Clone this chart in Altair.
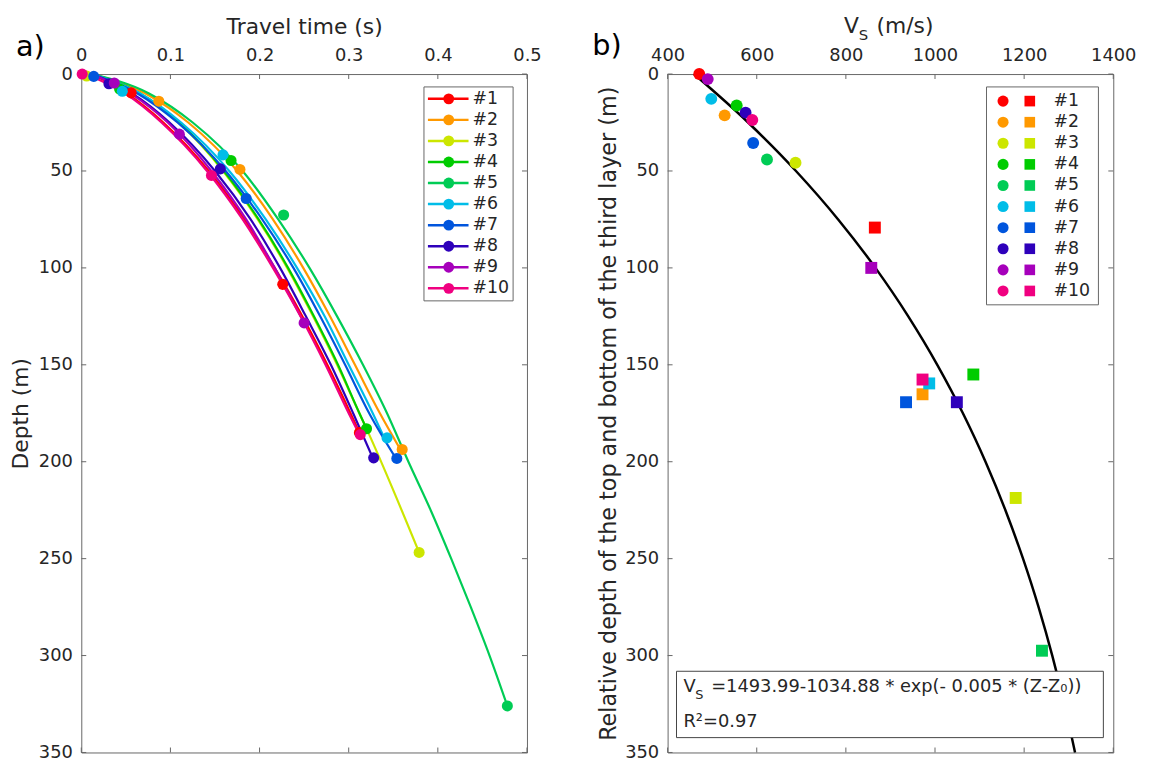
import altair as alt
import pandas as pd

# ---------------- data ----------------
SERIES = ["#1", "#2", "#3", "#4", "#5", "#6", "#7", "#8", "#9", "#10"]
COLORS = ["#ff0000", "#ff9900", "#cce600", "#00cc00", "#00cc55",
          "#00bde8", "#0055dd", "#2e00bb", "#a600bb", "#f00080"]

# Panel a: fitted travel-time curves (depth in m, time in s), one list per series
curve_depth = [
    [0, 10, 25, 50, 75, 100, 125, 150, 175, 184],
    [0, 10, 25, 50, 75, 100, 125, 150, 175, 193.7],
    [0, 10, 25, 50, 75, 100, 125, 150, 175, 185, 246.8],
    [0, 10, 25, 50, 75, 100, 125, 150, 175, 183],
    [0, 10, 25, 50, 75, 100, 125, 150, 175, 200, 225, 250, 275, 300, 326],
    [0, 10, 25, 50, 75, 100, 125, 150, 175, 187.7],
    [0, 10, 25, 50, 75, 100, 125, 150, 175, 198.3],
    [0, 10, 25, 50, 75, 100, 125, 150, 175, 198],
    [0, 10, 25, 50, 75, 100, 128.4],
    [0, 10, 25, 50, 75, 100, 125, 150, 175, 186],
]
curve_time = [
    [0.012, 0.051, 0.092, 0.143, 0.183, 0.217, 0.248, 0.276, 0.302, 0.311],
    [0.012, 0.072, 0.120, 0.175, 0.215, 0.249, 0.279, 0.307, 0.335, 0.358],
    [0.012, 0.065, 0.109, 0.159, 0.198, 0.231, 0.260, 0.287, 0.312, 0.322, 0.379],
    [0.012, 0.066, 0.110, 0.160, 0.199, 0.232, 0.261, 0.288, 0.312, 0.320],
    [0.012, 0.076, 0.125, 0.181, 0.221, 0.256, 0.287, 0.316, 0.343, 0.367, 0.392, 0.415, 0.437, 0.458, 0.478],
    [0.012, 0.066, 0.112, 0.166, 0.207, 0.242, 0.273, 0.300, 0.327, 0.340],
    [0.012, 0.063, 0.108, 0.162, 0.203, 0.238, 0.268, 0.296, 0.323, 0.353],
    [0.012, 0.057, 0.099, 0.150, 0.190, 0.223, 0.252, 0.280, 0.305, 0.327],
    [0.012, 0.055, 0.097, 0.146, 0.185, 0.217, 0.250],
    [0.005, 0.049, 0.090, 0.141, 0.181, 0.215, 0.246, 0.274, 0.300, 0.312],
]
# Panel a: measured points
marker_time = [
    [0.056, 0.226, 0.312],
    [0.087, 0.178, 0.360],
    [0.006, 0.379],
    [0.043, 0.168, 0.320],
    [0.227, 0.478],
    [0.046, 0.159, 0.343],
    [0.014, 0.185, 0.354],
    [0.031, 0.156, 0.328],
    [0.037, 0.110, 0.250],
    [0.001, 0.146, 0.313],
]
marker_depth = [
    [9.7, 108.5, 185],
    [14, 49.2, 193.7],
    [1, 246.8],
    [7.7, 44.6, 183],
    [72.7, 326],
    [8.9, 41.7, 187.7],
    [1.2, 64.2, 198.3],
    [5, 48.9, 198],
    [4.6, 31, 128.4],
    [0, 52.3, 186],
]

# Panel b: Vs at top (circles) and bottom (squares) of the third layer
circle_vs = [471, 528, 687, 555, 623, 498, 592, 575, 490, 590]
circle_depth = [0, 21.3, 45.8, 16.2, 44.1, 12.8, 35.6, 19.9, 2.6, 23.7]
square_vs = [865, 972, 1181, 1086, 1240, 987, 935, 1049, 857, 972]
square_depth = [79.2, 165.2, 218.7, 155, 297.5, 159.6, 169.3, 169.3, 100, 157.6]

# Panel b: fitted curve Vs(Z)
fit_depth = [0, 25, 50, 75, 100, 125, 150, 175, 200, 225, 250, 275, 300, 325, 350]
fit_vs = [459.1, 580.7, 688.0, 782.7, 866.3, 940.0, 1005.1, 1062.6, 1113.3,
          1158.0, 1197.5, 1232.4, 1263.1, 1290.2, 1314.2]

time_ticks = [0, 0.1, 0.2, 0.3, 0.4, 0.5]
vs_ticks = [400, 600, 800, 1000, 1200, 1400]
depth_ticks = [0, 50, 100, 150, 200, 250, 300, 350]

# ---------------- styling ----------------
FONT = "DejaVu Sans"
TXT = "#262626"
FRAME = "#666666"
W, H = 450, 685
TL = 5  # inner tick length

cscale = alt.Scale(domain=SERIES, range=COLORS)
col = alt.Color("series:N", scale=cscale, legend=None)

one = pd.DataFrame({"a": [0]})
legend_df = pd.DataFrame({"series": SERIES, "row": list(range(len(SERIES)))})

# ---------------- panel a ----------------
rows = []
for s, ds, ts in zip(SERIES, curve_depth, curve_time):
    for k, (d, t) in enumerate(zip(ds, ts)):
        rows.append({"series": s, "k": k, "time": t, "depth": d})
curves = pd.DataFrame(rows)

rows = []
for s, ts, ds in zip(SERIES, marker_time, marker_depth):
    for t, d in zip(ts, ds):
        rows.append({"series": s, "time": t, "depth": d})
markers_a = pd.DataFrame(rows)

xs_a = alt.Scale(domain=[0, 0.5], nice=False, zero=False)
ys = alt.Scale(domain=[0, 350], reverse=True, nice=False, zero=False)

xa = alt.X("time:Q", scale=xs_a,
           axis=alt.Axis(orient="top", values=time_ticks, format="~g",
                         title="Travel time (s)", labelPadding=10, titlePadding=8,
                         labelFlush=False))
ya = alt.Y("depth:Q", scale=ys,
           axis=alt.Axis(values=depth_ticks, format="d", title="Depth (m)",
                         labelPadding=9, titlePadding=6))

xt_a = pd.DataFrame({"time": time_ticks})
yt = pd.DataFrame({"depth": depth_ticks})

ticks_a = [
    alt.Chart(xt_a).mark_rule(color=FRAME, strokeWidth=1).encode(x=xa, y=alt.value(0), y2=alt.value(TL)),
    alt.Chart(xt_a).mark_rule(color=FRAME, strokeWidth=1).encode(x=xa, y=alt.value(H - TL), y2=alt.value(H)),
    alt.Chart(yt).mark_rule(color=FRAME, strokeWidth=1).encode(y=ya, x=alt.value(0), x2=alt.value(TL)),
    alt.Chart(yt).mark_rule(color=FRAME, strokeWidth=1).encode(y=ya, x=alt.value(W - TL), x2=alt.value(W)),
]

# invisible spacer that fixes the top extent of the layout
spacer = alt.Chart(one).mark_rule(opacity=0, strokeWidth=1).encode(
    x=alt.value(0), x2=alt.value(1), y=alt.value(-62.5))

lines_a = alt.Chart(curves).mark_line(strokeWidth=2.2, interpolate="monotone").encode(
    x=xa, y=ya, color=col, order="k:Q")
points_a = alt.Chart(markers_a).mark_circle(size=125, opacity=1).encode(x=xa, y=ya, color=col)

leg_y_a = alt.Y("ly:Q", scale=None, axis=None)
leg_a_base = alt.Chart(legend_df).transform_calculate(ly="25 + datum.row * 21.26")
legend_a = [
    alt.Chart(one).mark_rect(fill="white", stroke=FRAME, strokeWidth=1).encode(
        x=alt.value(346), x2=alt.value(436), y=alt.value(13), y2=alt.value(229)),
    leg_a_base.mark_rule(strokeWidth=2.5).encode(x=alt.value(350), x2=alt.value(391), y=leg_y_a, color=col),
    leg_a_base.mark_circle(size=120, opacity=1).encode(x=alt.value(371), y=leg_y_a, color=col),
    leg_a_base.mark_text(align="left", baseline="middle", font=FONT, fontSize=17.5, color=TXT).encode(
        x=alt.value(395), y=leg_y_a, text="series:N"),
]

label_a = alt.Chart(one).mark_text(align="left", baseline="alphabetic", font=FONT, fontSize=29,
                                   color="black").encode(x=alt.value(-66), y=alt.value(-18), text=alt.value("a)"))

panel_a = alt.layer(spacer, *ticks_a, lines_a, points_a, *legend_a, label_a).properties(width=W, height=H)

# ---------------- panel b ----------------
circ = pd.DataFrame({"series": SERIES, "vs": circle_vs, "depth": circle_depth})
sq = pd.DataFrame({"series": SERIES, "vs": square_vs, "depth": square_depth})
fit = pd.DataFrame({"vs": fit_vs, "depth": fit_depth})

xs_b = alt.Scale(domain=[400, 1400], nice=False, zero=False)
xb = alt.X("vs:Q", scale=xs_b,
           axis=alt.Axis(orient="top", values=vs_ticks, format="d", title=None,
                         labelPadding=10, labelFlush=False))
yb = alt.Y("depth:Q", scale=ys,
           axis=alt.Axis(values=depth_ticks, format="d",
                         title="Relative depth of the top and bottom of the third layer (m)",
                         labelPadding=9, titlePadding=4, titleFontSize=22.5))

xt_b = pd.DataFrame({"vs": vs_ticks})
ticks_b = [
    alt.Chart(xt_b).mark_rule(color=FRAME, strokeWidth=1).encode(x=xb, y=alt.value(0), y2=alt.value(TL)),
    alt.Chart(xt_b).mark_rule(color=FRAME, strokeWidth=1).encode(x=xb, y=alt.value(H - TL), y2=alt.value(H)),
    alt.Chart(yt).mark_rule(color=FRAME, strokeWidth=1).encode(y=yb, x=alt.value(0), x2=alt.value(TL)),
    alt.Chart(yt).mark_rule(color=FRAME, strokeWidth=1).encode(y=yb, x=alt.value(W - TL), x2=alt.value(W)),
]

fit_line = alt.Chart(fit).mark_line(color="black", strokeWidth=2.5, interpolate="monotone").encode(
    x=xb, y=yb, order="depth:Q")
circles_b = alt.Chart(circ).mark_circle(size=145, opacity=1).encode(x=xb, y=yb, color=col)
squares_b = alt.Chart(sq).mark_square(size=145, opacity=1).encode(x=xb, y=yb, color=col)

leg_y_b = alt.Y("ly:Q", scale=None, axis=None)
leg_b_base = alt.Chart(legend_df).transform_calculate(ly="27.3 + datum.row * 21.3")
legend_b = [
    alt.Chart(one).mark_rect(fill="white", stroke=FRAME, strokeWidth=1).encode(
        x=alt.value(322), x2=alt.value(435), y=alt.value(13), y2=alt.value(233)),
    leg_b_base.mark_circle(size=125, opacity=1).encode(x=alt.value(338.7), y=leg_y_b, color=col),
    leg_b_base.mark_square(size=115, opacity=1).encode(x=alt.value(365.7), y=leg_y_b, color=col),
    leg_b_base.mark_text(align="left", baseline="middle", font=FONT, fontSize=17.5, color=TXT).encode(
        x=alt.value(389.7), y=leg_y_b, text="series:N"),
]

def txt(s, x, y, size, **kw):
    return alt.Chart(one).mark_text(align="left", baseline="alphabetic", font=FONT, fontSize=size,
                                    color=kw.get("color", TXT)).encode(
        x=alt.value(x), y=alt.value(y), text=alt.value(s))

eq_b = [
    alt.Chart(one).mark_rect(fill="white", stroke="#444444", strokeWidth=1).encode(
        x=alt.value(9), x2=alt.value(440), y=alt.value(603), y2=alt.value(670)),
    txt("V", 16, 624, 18),
    txt("S", 28, 631, 13),
    txt("=1493.99-1034.88 * exp(- 0.005 * (Z-Z\u2080))", 44, 624, 18),
    txt("R\u00b2=0.97", 16, 659.7, 18),
]

title_b = [
    txt("V", 178, -41, 22),
    txt("S", 193, -34, 15),
    txt("(m/s)", 211, -41, 22),
    txt("b)", -76, -19, 29, color="black"),
]

panel_b = alt.layer(*ticks_b, fit_line, circles_b, squares_b, *legend_b, *eq_b, *title_b).properties(
    width=W, height=H)

chart = alt.hconcat(panel_a, panel_b, spacing=142, bounds="flush").properties(
    padding={"left": 1, "top": 0, "right": 5, "bottom": 5}
).configure_view(stroke=FRAME, strokeWidth=1).configure_axis(
    labelFont=FONT, titleFont=FONT, labelFontSize=18, titleFontSize=22,
    titleFontWeight="normal", labelColor=TXT, titleColor=TXT,
    domain=False, ticks=False, tickSize=0, grid=False, labelOverlap=False, labelBound=False
)

chart.save("out.html", embed_options={"renderer": "svg", "actions": False})
